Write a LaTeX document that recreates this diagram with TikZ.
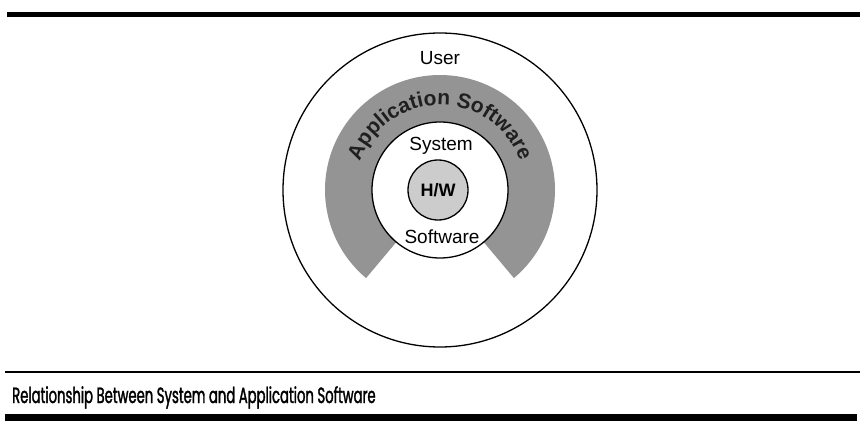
\documentclass[tikz,border=0pt]{standalone}
\usepackage{fontspec}
\setmainfont{Liberation Sans}
\newfontfamily\capfont[FakeStretch=0.6, FakeBold=1.5]{Poppins}
\usetikzlibrary{decorations.text}
\begin{document}
\begin{tikzpicture}[x=1pt,y=1pt,
  ring/.style={circle, draw=black, line width=1.3pt, inner sep=0pt},
  layertext/.style={font=\fontsize{19}{19}\selectfont, inner sep=0pt},
  rulebar/.style={fill=black}]
\useasboundingbox (0,0) rectangle (860,424);

% page rules
\fill[rulebar] (7,407) rectangle (860,411.5);
\draw[line width=2pt] (5,52) -- (860,52);
\fill[rulebar] (5,3.5) rectangle (857,10);

% layers
\coordinate (c) at (440,234);
\node[ring, minimum size=314pt] (user) at (c) {};
\fill[black!42] (c) -- ++(-50:115) arc[start angle=-50, end angle=230, radius=115] -- cycle;
\node[ring, fill=white, minimum size=136pt] (sys) at (c) {};
\node[ring, fill=black!20, minimum size=60pt] (hw) at (438,234) {};

% labels
\node[layertext] (userlbl) at (440,366) {User};
\node[layertext] (syslbl) at (441,278) {System};
\node[layertext] (swlbl) at (442,187) {Software};
\node[layertext, font=\bfseries\fontsize{18}{18}\selectfont] (hwlbl) at (hw) {H/W};
\path[decorate, decoration={text along path, text align=center,
      text format delimiters={|}{|},
      text={|\bfseries\fontsize{21}{21}\selectfont\color{black!88}|Application Software}}]
  (c) ++(162:85) arc[start angle=162, end angle=18, radius=85];

% caption
\node[anchor=base west, inner sep=0pt, font=\capfont\fontsize{22}{22}\selectfont] (caption) at (12,21)
  {Relationship Between System and Application Software};
\end{tikzpicture}
\end{document}
